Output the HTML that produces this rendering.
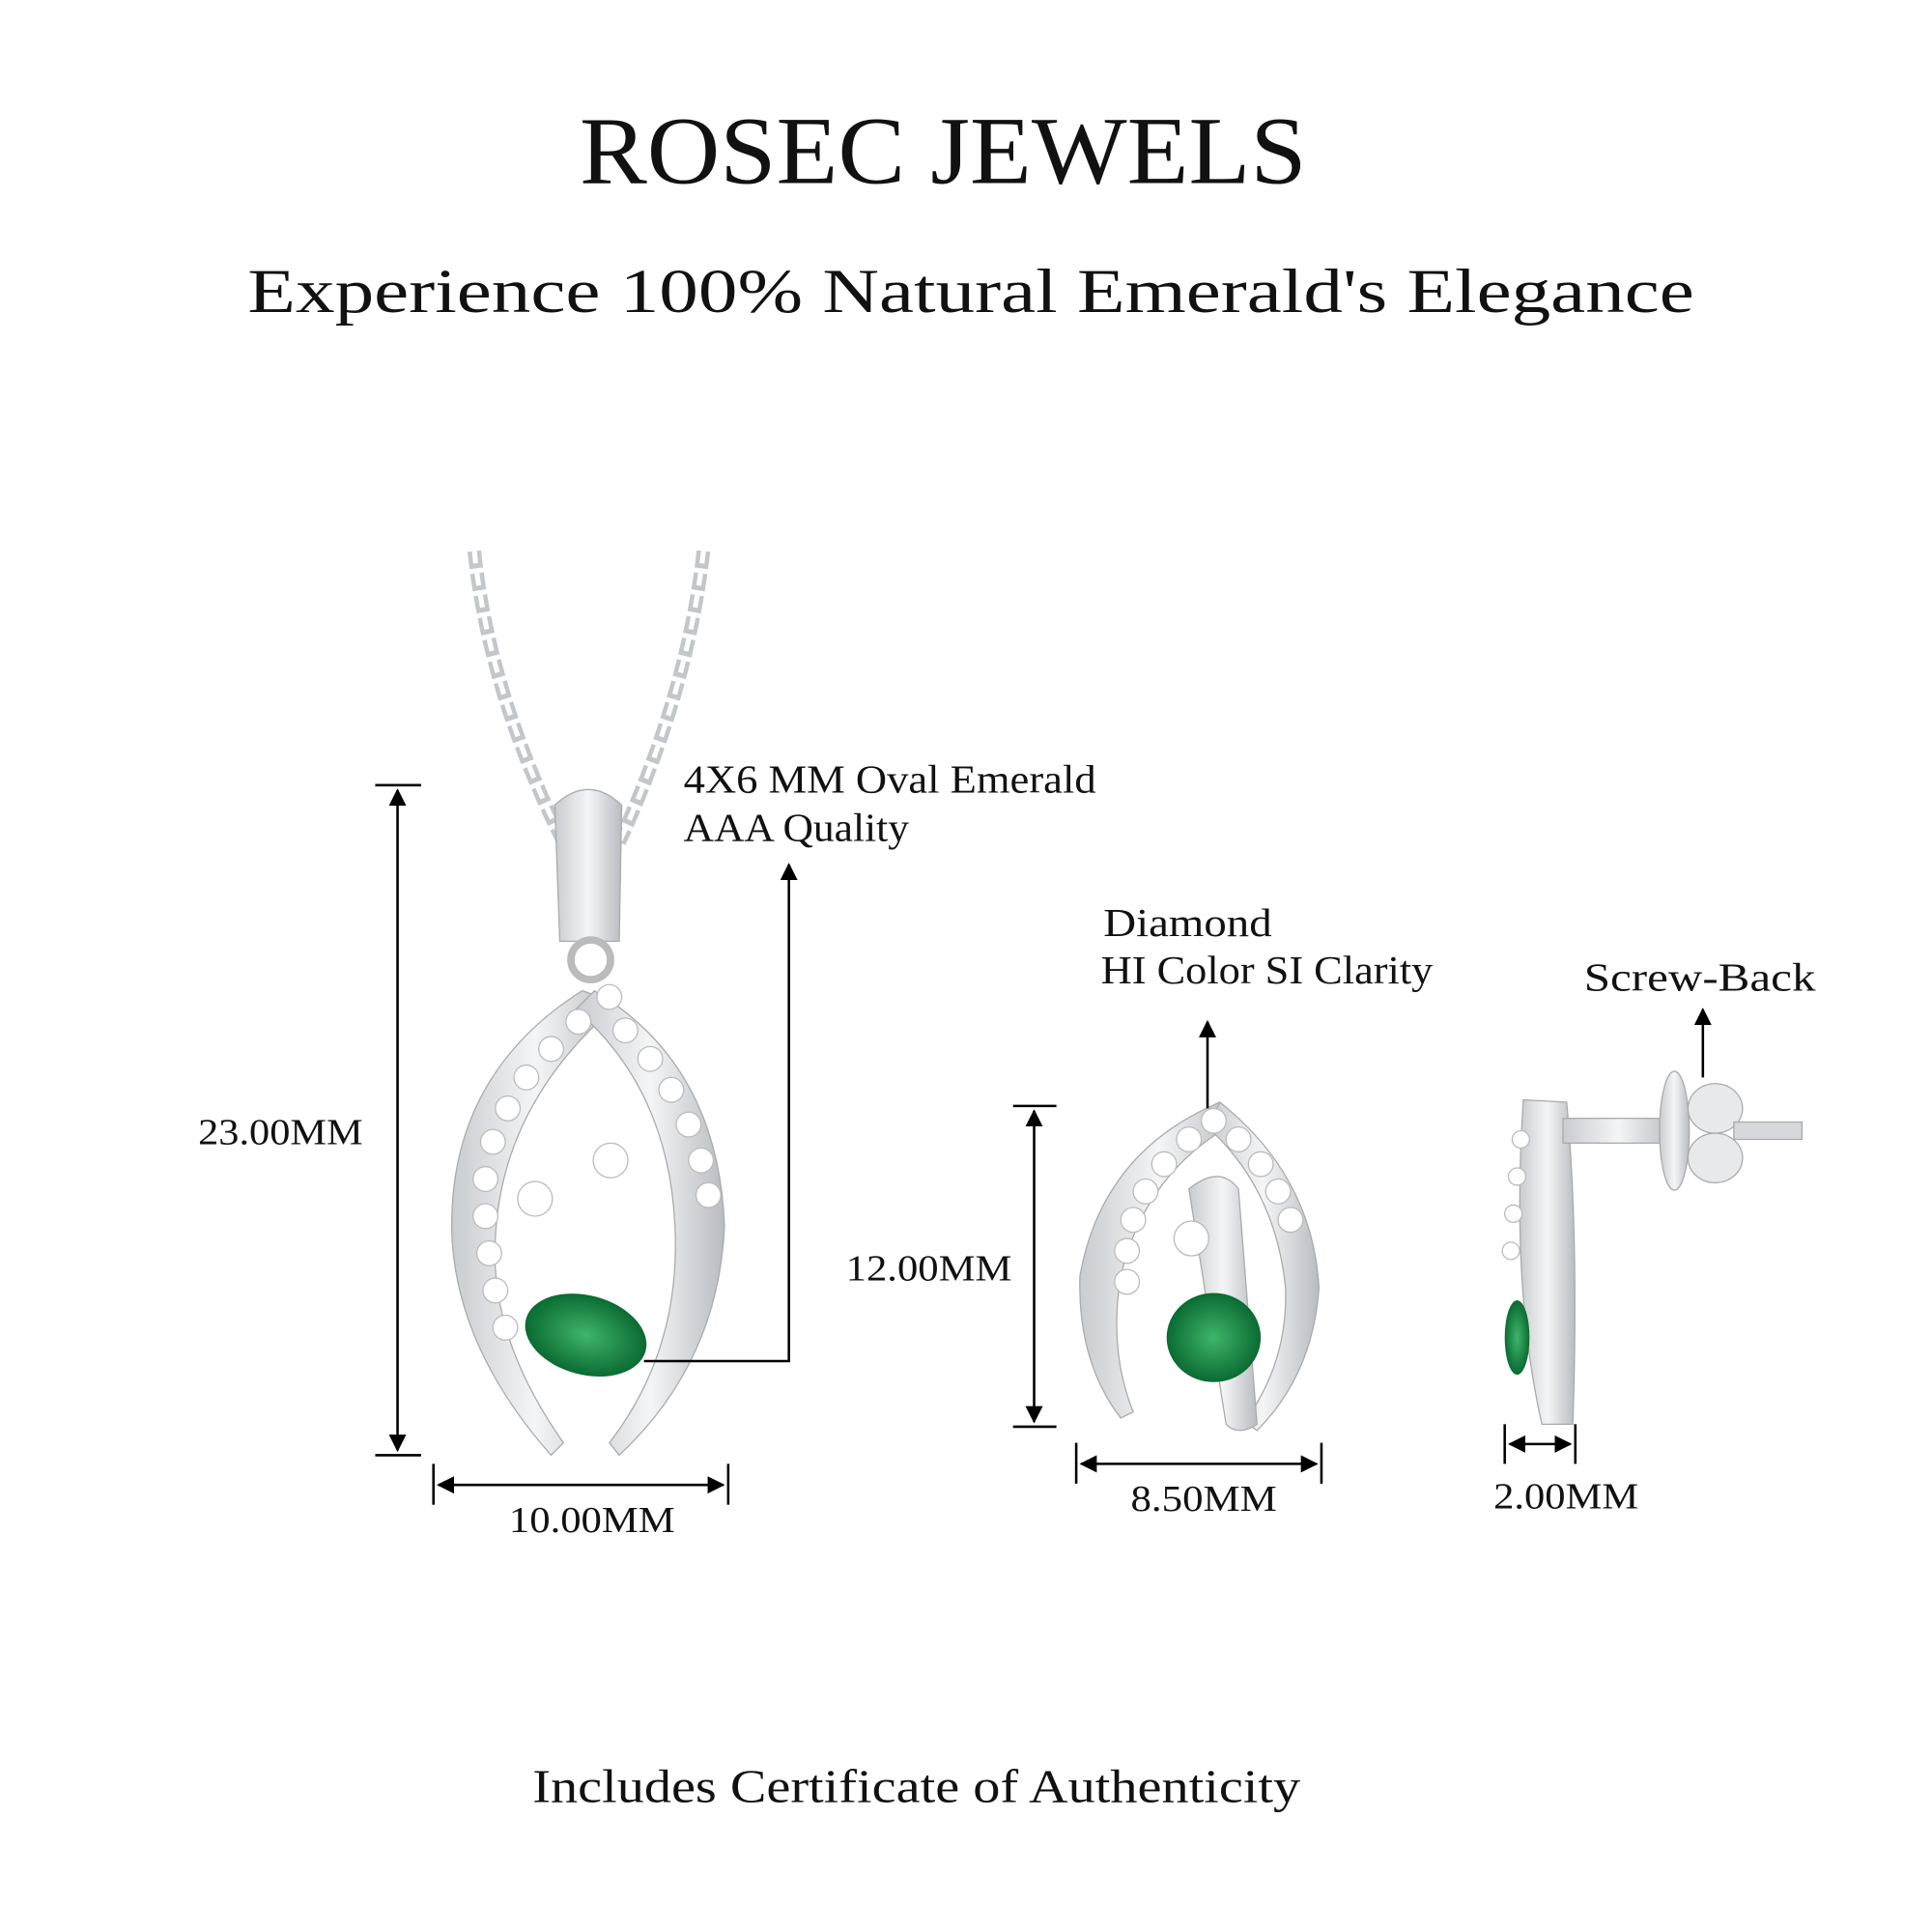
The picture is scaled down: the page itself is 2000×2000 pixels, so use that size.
<!DOCTYPE html>
<html><head><meta charset="utf-8"><style>
html,body{margin:0;padding:0;background:#fff;}
svg{display:block;}
text{font-family:"Liberation Serif","DejaVu Serif",serif;fill:#111;}
</style></head><body>
<svg width="2000" height="2000" viewBox="0 0 1560 1560" xmlns="http://www.w3.org/2000/svg">
<defs>
<marker id="a" viewBox="0 0 10 10" refX="9" refY="5" markerWidth="7" markerHeight="7" orient="auto-start-reverse"><path d="M0,0L10,5L0,10z" fill="#000"/></marker>
<linearGradient id="m" x1="0" x2="1"><stop offset="0" stop-color="#c9ccd0"/><stop offset=".5" stop-color="#f4f5f6"/><stop offset="1" stop-color="#b8bcc1"/></linearGradient>
<radialGradient id="g"><stop offset="0" stop-color="#3fb56a"/><stop offset="1" stop-color="#0a6b32"/></radialGradient>
</defs>
<rect width="1560" height="1560" fill="#fff"/>
<text x="468" y="148" font-size="78" textLength="587" lengthAdjust="spacingAndGlyphs">ROSEC JEWELS</text>
<text x="200" y="252" font-size="50" textLength="1168" lengthAdjust="spacingAndGlyphs">Experience 100% Natural Emerald's Elegance</text>

<!-- chain -->
<g fill="none" stroke="#c3c6ca">
<path d="M383,445 Q395,560 455,680" stroke-width="11" stroke-dasharray="14 4"/>
<path d="M568,445 Q555,560 500,680" stroke-width="11" stroke-dasharray="14 4"/>
<path d="M383,445 Q395,560 455,680" stroke="#fff" stroke-width="4" stroke-dasharray="10 8"/>
<path d="M568,445 Q555,560 500,680" stroke="#fff" stroke-width="4" stroke-dasharray="10 8"/>
</g>
<!-- bail -->
<path d="M448,650 Q475,625 502,650 L500,760 L452,760 Z" fill="url(#m)" stroke="#aaa"/>
<circle cx="477" cy="775" r="16" fill="none" stroke="#bbb" stroke-width="6"/>
<!-- pendant arms -->
<path d="M470,800 Q360,870 365,1000 Q370,1090 445,1175 L455,1165 Q395,1080 400,1000 Q405,890 500,810 Z" fill="url(#m)" stroke="#aaa"/>
<path d="M480,800 Q580,860 585,990 Q580,1100 500,1175 L492,1165 Q550,1090 545,990 Q540,880 465,815 Z" fill="url(#m)" stroke="#aaa"/>
<g fill="#fff" stroke="#bbb">
<circle cx="492" cy="805" r="10"/><circle cx="467" cy="825" r="10"/><circle cx="445" cy="847" r="10"/><circle cx="425" cy="870" r="10"/><circle cx="410" cy="895" r="10"/><circle cx="398" cy="922" r="10"/><circle cx="392" cy="952" r="10"/><circle cx="392" cy="982" r="10"/><circle cx="395" cy="1012" r="10"/><circle cx="400" cy="1042" r="10"/><circle cx="408" cy="1072" r="10"/>
<circle cx="505" cy="832" r="10"/><circle cx="525" cy="855" r="10"/><circle cx="542" cy="880" r="10"/><circle cx="556" cy="908" r="10"/><circle cx="566" cy="937" r="10"/><circle cx="572" cy="965" r="10"/>
<circle cx="493" cy="937" r="14"/><circle cx="432" cy="968" r="14"/>
</g>
<ellipse cx="473" cy="1078" rx="50" ry="32" transform="rotate(15 473 1078)" fill="url(#g)"/>

<!-- pendant dimensions -->
<line x1="303" y1="634" x2="340" y2="634" stroke="#000" stroke-width="2"/>
<line x1="303" y1="1175" x2="340" y2="1175" stroke="#000" stroke-width="2"/>
<line x1="321" y1="638" x2="321" y2="1171" stroke="#000" stroke-width="2" marker-start="url(#a)" marker-end="url(#a)"/>
<text x="160" y="924" font-size="30" textLength="133" lengthAdjust="spacingAndGlyphs">23.00MM</text>
<line x1="350" y1="1182" x2="350" y2="1215" stroke="#000" stroke-width="2"/>
<line x1="588" y1="1182" x2="588" y2="1215" stroke="#000" stroke-width="2"/>
<line x1="354" y1="1199" x2="584" y2="1199" stroke="#000" stroke-width="2" marker-start="url(#a)" marker-end="url(#a)"/>
<text x="411" y="1237" font-size="30" textLength="134" lengthAdjust="spacingAndGlyphs">10.00MM</text>
<polyline points="520,1099 637,1099 637,698" fill="none" stroke="#000" stroke-width="2" marker-end="url(#a)"/>
<text x="552" y="640" font-size="32" textLength="333" lengthAdjust="spacingAndGlyphs">4X6 MM Oval Emerald</text>
<text x="552" y="679" font-size="32" textLength="182" lengthAdjust="spacingAndGlyphs">AAA Quality</text>

<!-- earring front -->
<path d="M985,890 Q890,930 872,1030 Q870,1100 905,1145 L915,1140 Q895,1090 905,1030 Q925,945 1000,905 Z" fill="url(#m)" stroke="#aaa"/>
<path d="M985,890 Q1060,950 1065,1040 Q1060,1110 1015,1155 L1005,1148 Q1040,1100 1038,1040 Q1030,960 975,910 Z" fill="url(#m)" stroke="#aaa"/>
<path d="M960,960 Q985,940 1000,960 L1015,1150 Q1000,1160 990,1150 Z" fill="url(#m)" stroke="#aaa"/>
<g fill="#fff" stroke="#bbb">
<circle cx="980" cy="905" r="10"/><circle cx="960" cy="920" r="10"/><circle cx="940" cy="940" r="10"/><circle cx="925" cy="962" r="10"/><circle cx="915" cy="985" r="10"/><circle cx="910" cy="1010" r="10"/><circle cx="910" cy="1035" r="10"/>
<circle cx="1000" cy="920" r="10"/><circle cx="1018" cy="940" r="10"/><circle cx="1032" cy="962" r="10"/><circle cx="1042" cy="985" r="10"/>
<circle cx="962" cy="1000" r="14"/>
</g>
<ellipse cx="980" cy="1080" rx="38" ry="36" fill="url(#g)"/>
<line x1="818" y1="893" x2="853" y2="893" stroke="#000" stroke-width="2"/>
<line x1="818" y1="1152" x2="853" y2="1152" stroke="#000" stroke-width="2"/>
<line x1="835" y1="897" x2="835" y2="1148" stroke="#000" stroke-width="2" marker-start="url(#a)" marker-end="url(#a)"/>
<text x="683" y="1034" font-size="30" textLength="134" lengthAdjust="spacingAndGlyphs">12.00MM</text>
<line x1="869" y1="1165" x2="869" y2="1198" stroke="#000" stroke-width="2"/>
<line x1="1067" y1="1165" x2="1067" y2="1198" stroke="#000" stroke-width="2"/>
<line x1="873" y1="1182" x2="1063" y2="1182" stroke="#000" stroke-width="2" marker-start="url(#a)" marker-end="url(#a)"/>
<text x="913" y="1220" font-size="30" textLength="118" lengthAdjust="spacingAndGlyphs">8.50MM</text>
<line x1="975" y1="895" x2="975" y2="825" stroke="#000" stroke-width="2" marker-end="url(#a)"/>
<text x="891" y="756" font-size="32" textLength="136" lengthAdjust="spacingAndGlyphs">Diamond</text>
<text x="889" y="794" font-size="32" textLength="268" lengthAdjust="spacingAndGlyphs">HI Color SI Clarity</text>

<!-- earring side -->
<path d="M1230,888 L1265,890 Q1275,1000 1270,1150 L1245,1150 Q1220,1040 1230,888 Z" fill="url(#m)" stroke="#aaa"/>
<rect x="1262" y="903" width="90" height="20" fill="url(#m)" stroke="#aaa"/>
<ellipse cx="1352" cy="913" rx="12" ry="48" fill="url(#m)" stroke="#aaa"/>
<ellipse cx="1385" cy="895" rx="22" ry="20" fill="#e8e9eb" stroke="#aaa"/>
<ellipse cx="1385" cy="935" rx="22" ry="20" fill="#e8e9eb" stroke="#aaa"/>
<rect x="1400" y="906" width="55" height="14" fill="#d6d8db" stroke="#aaa"/>
<g fill="#fff" stroke="#bbb"><circle cx="1228" cy="920" r="7"/><circle cx="1225" cy="950" r="7"/><circle cx="1222" cy="980" r="7"/><circle cx="1220" cy="1010" r="7"/></g>
<ellipse cx="1225" cy="1080" rx="10" ry="30" fill="url(#g)"/>
<line x1="1375" y1="870" x2="1375" y2="815" stroke="#000" stroke-width="2" marker-end="url(#a)"/>
<text x="1279" y="800" font-size="32" textLength="187" lengthAdjust="spacingAndGlyphs">Screw-Back</text>
<line x1="1215" y1="1150" x2="1215" y2="1182" stroke="#000" stroke-width="2"/>
<line x1="1272" y1="1150" x2="1272" y2="1182" stroke="#000" stroke-width="2"/>
<line x1="1219" y1="1166" x2="1268" y2="1166" stroke="#000" stroke-width="2" marker-start="url(#a)" marker-end="url(#a)"/>
<text x="1206" y="1218" font-size="30" textLength="117" lengthAdjust="spacingAndGlyphs">2.00MM</text>

<text x="430" y="1455" font-size="38" textLength="620" lengthAdjust="spacingAndGlyphs">Includes Certificate of Authenticity</text>
</svg>
</body></html>
